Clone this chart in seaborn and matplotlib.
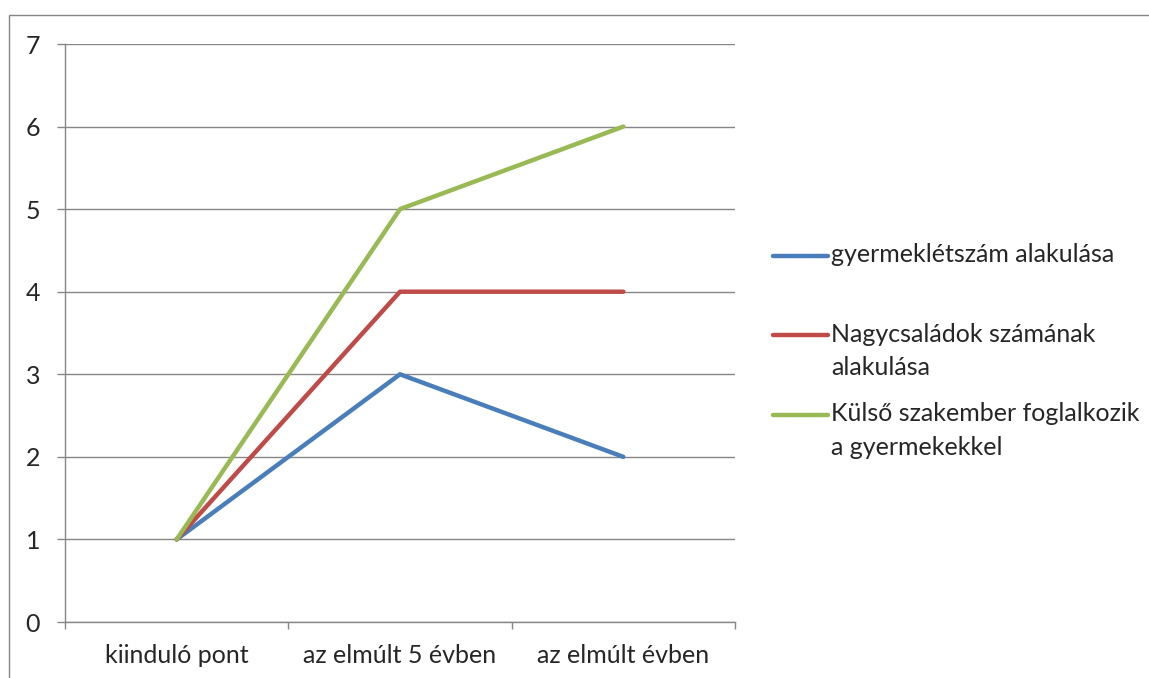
import numpy as np
import pandas as pd
import matplotlib.pyplot as plt
from matplotlib.patches import Rectangle
import seaborn as sns

# adatok
categories = ["kiinduló pont", "az elmúlt 5 évben", "az elmúlt évben"]
series_names = ["gyermeklétszám alakulása",
                "Nagycsaládok számának alakulása",
                "Külső szakember foglalkozik a gyermekekkel"]
legend_labels = ["gyermeklétszám alakulása\n",
                 "Nagycsaládok számának\nalakulása",
                 "Külső szakember foglalkozik\na gyermekekkel"]
gyermeklet = [1, 3, 2]
nagycsalad = [1, 4, 4]
kulso = [1, 5, 6]
colors = ["#4A7EBB", "#BE4B48", "#98B954"]
gray = "#868686"

rows = []
for name, vals in zip(series_names, [gyermeklet, nagycsalad, kulso]):
    for i, v in enumerate(vals):
        rows.append({"x": i, "y": v, "series": name})
df = pd.DataFrame(rows)

sns.set_style("white")
plt.rcParams["font.family"] = ["Lato", "DejaVu Sans"]
fs = 18

W, H = 1149, 678
fig = plt.figure(figsize=(W / 100, H / 100), dpi=100)
ax = fig.add_axes([65 / W, 56 / H, 670 / W, 578 / H])

sns.lineplot(data=df, x="x", y="y", hue="series", palette=colors,
             linewidth=3.2, legend=False, sort=False, ax=ax)

ax.set_xlim(-0.5, 2.5)
ax.set_ylim(0, 7)
ax.set_yticks(range(8))
ax.set_xticks(range(len(categories)), categories)
ax.set_xticks([-0.5, 0.5, 1.5, 2.5], minor=True)
ax.set_xlabel("")
ax.set_ylabel("")

ax.yaxis.grid(True, color=gray, linewidth=1)
ax.xaxis.grid(False)
ax.set_axisbelow(True)
for s in ["top", "right"]:
    ax.spines[s].set_visible(False)
for s in ["left", "bottom"]:
    ax.spines[s].set_color(gray)
    ax.spines[s].set_linewidth(1)

ax.tick_params(axis="y", length=6, width=1, color=gray, direction="out",
               left=True, labelsize=fs, pad=12)
ax.tick_params(axis="x", which="major", length=0, labelsize=fs, pad=16)
ax.tick_params(axis="x", which="minor", length=5, width=1, color=gray,
               direction="out", bottom=True)

handles = ax.get_lines()[:3]
leg = fig.legend(handles, legend_labels, loc="upper left",
                 bbox_to_anchor=(773 / W, (H - 243) / H), frameon=False,
                 fontsize=fs, handlelength=2.2, handletextpad=0.12,
                 borderpad=0, borderaxespad=0, labelspacing=0.93)
for t in leg.texts:
    t.set_linespacing(1.55)

# jelmagyarázat vonala az első sorhoz igazítva
fig.canvas.draw()
fs_px = fs * fig.dpi / 72
for h, t in zip(leg.legend_handles, leg.texts):
    bb = t.get_window_extent()
    yd = np.asarray(h.get_ydata(), dtype=float)
    cur = h.get_transform().transform((h.get_xdata()[0], yd[0]))[1]
    target = bb.y1 - 0.5 * fs_px
    h.set_ydata(yd + (target - cur) / (fig.dpi / 72))

# keret
fig.patches.append(Rectangle((8.5 / W, -0.1), 1.2, (H - 15) / H + 0.1,
                             transform=fig.transFigure, fill=False,
                             edgecolor=gray, linewidth=1))

fig.savefig("out.png", dpi=100)
